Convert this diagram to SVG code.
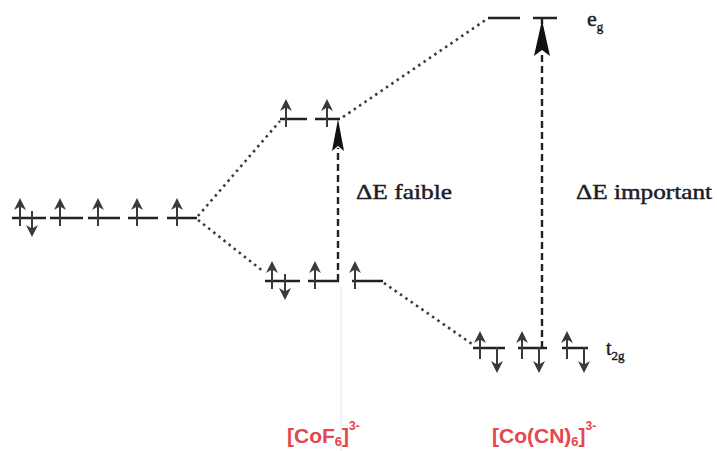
<svg xmlns="http://www.w3.org/2000/svg" xmlns:xlink="http://www.w3.org/1999/xlink" width="717" height="451" viewBox="0 0 717 451">
<style>
.lvl{stroke:#222;stroke-width:2.6;fill:none}
.dot{stroke:#3c3c3c;stroke-width:2.6;stroke-dasharray:2.5 4;fill:none}
.dash{stroke:#222;stroke-width:2.4;stroke-dasharray:7 4;fill:none}
.el line{stroke:#3a3a3a;stroke-width:2}
.el path{fill:#3a3a3a}
.lab{font-size:21px;fill:#1c1c28;stroke:#1c1c28;stroke-width:0.45}
.red{font-weight:bold;font-size:21px;fill:#e4474e}
</style>
<defs>
<g id="u" class="el"><line x1="0" y1="-14" x2="0" y2="8"/><path d="M0,-20 L6,-8 L0,-11.5 L-6,-8 Z"/></g>
<g id="d" class="el"><line x1="0" y1="-7" x2="0" y2="13"/><path d="M0,19 L6,7 L0,10.5 L-6,7 Z"/></g>
</defs>
<line x1="341" y1="286" x2="341" y2="451" stroke="#e6e6e6" stroke-width="1"/>
<g id="connectors">
<path class="dot" d="M198,216 L280,121"/>
<path class="dot" d="M198,220 L264,272"/>
<path class="dot" d="M343,117 L487,19"/>
<path class="dot" d="M384,283 L472,344"/>
<path class="dash" d="M338,281 V148"/>
<path d="M338,119 L344,151 L338,146 L332,151 Z" fill="#111"/>
<path class="dash" d="M542,348 V52"/>
<line x1="542" y1="18" x2="542" y2="24" stroke="#222" stroke-width="2.4"/>
<path d="M542,20 L550,56 L542,50 L534,56 Z" fill="#111"/>
</g>
<g id="free-ion">
<path class="lvl" d="M12,218 H46 M50,218 H83 M88,218 H120 M128,218 H158 M167,218 H197"/>
<use xlink:href="#u" x="20" y="218"/><use xlink:href="#d" x="32" y="218"/>
<use xlink:href="#u" x="60" y="218"/><use xlink:href="#u" x="98" y="218"/>
<use xlink:href="#u" x="137" y="218"/><use xlink:href="#u" x="177" y="218"/>
</g>
<g id="cof6-eg">
<path class="lvl" d="M280,119 H307 M315,119 H340"/>
<use xlink:href="#u" x="286" y="119"/><use xlink:href="#u" x="327" y="119"/>
</g>
<g id="cof6-t2g">
<path class="lvl" d="M265,281 H300 M308,281 H339 M352,281 H383"/>
<use xlink:href="#u" x="272" y="281"/><use xlink:href="#d" x="285" y="281"/>
<use xlink:href="#u" x="315" y="281"/><use xlink:href="#u" x="355" y="281"/>
</g>
<g id="cocn6-eg">
<path class="lvl" d="M488,18 H520 M533,18 H557"/>
<text x="587" y="26" class="lab" font-family="Liberation Serif, serif" style="font-size:22px">e<tspan style="font-size:13px" dy="5">g</tspan></text>
</g>
<g id="cocn6-t2g">
<path class="lvl" d="M473,348 H505 M518,348 H547 M562,348 H588"/>
<use xlink:href="#u" x="480" y="351"/><use xlink:href="#d" x="497" y="354"/>
<use xlink:href="#u" x="522" y="351"/><use xlink:href="#d" x="539" y="354"/>
<use xlink:href="#u" x="567" y="351"/><use xlink:href="#d" x="584" y="354"/>
<text x="606" y="355" class="lab" font-family="Liberation Serif, serif" style="font-size:20px">t<tspan style="font-size:13px" dy="5">2g</tspan></text>
</g>
<g id="labels">
<text x="356" y="199" class="lab" font-family="Liberation Serif, serif" textLength="96" lengthAdjust="spacingAndGlyphs">ΔE faible</text>
<text x="576" y="199" class="lab" font-family="Liberation Serif, serif" textLength="136" lengthAdjust="spacingAndGlyphs">ΔE important</text>
<text x="287" y="443" class="red" font-family="Liberation Sans, Arial, sans-serif">[CoF<tspan font-size="13" dy="3">6</tspan><tspan dy="-3">]</tspan><tspan font-size="12" dy="-13">3-</tspan></text>
<text x="492" y="443" class="red" font-family="Liberation Sans, Arial, sans-serif">[Co(CN)<tspan font-size="13" dy="3">6</tspan><tspan dy="-3">]</tspan><tspan font-size="12" dy="-13">3-</tspan></text>
</g>
</svg>
